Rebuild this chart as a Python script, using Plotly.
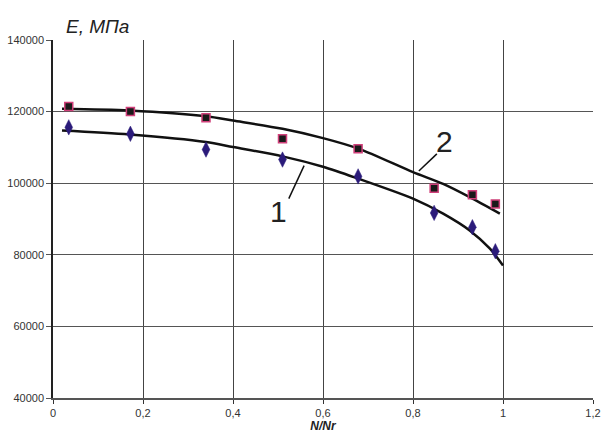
import plotly.graph_objects as go

# Measured points
x_pts = [0.035, 0.172, 0.34, 0.51, 0.678, 0.847, 0.932, 0.983]
e2_pts = [121400, 120000, 118300, 112400, 109600, 98600, 96800, 94200]   # squares (curve 2)
e1_pts = [115600, 113800, 109400, 106600, 101900, 91700, 87700, 81000]   # diamonds (curve 1)

# Trend curves
c2_x = [0.02, 0.17, 0.34, 0.4, 0.51, 0.6, 0.68, 0.8, 0.867, 0.926, 0.993]
c2_y = [120800, 120300, 118700, 117500, 115200, 112600, 109600, 103100, 99800, 96100, 91500]
c1_x = [0.02, 0.17, 0.34, 0.4, 0.51, 0.6, 0.68, 0.8, 0.867, 0.926, 0.971, 1.0]
c1_y = [114700, 113600, 111500, 110100, 107500, 104600, 101200, 95700, 91500, 86800, 81700, 77000]

x_ticks = [0, 0.2, 0.4, 0.6, 0.8, 1.0, 1.2]
x_tick_text = ["0", "0,2", "0,4", "0,6", "0,8", "1", "1,2"]
y_ticks = [40000, 60000, 80000, 100000, 120000, 140000]
y_tick_text = ["40000", "60000", "80000", "100000", "120000", "140000"]

# Curve labels: text position and leader line (tail, head)
lab_text = ["1", "2"]
lab_x = [0.50, 0.871]
lab_y = [92100, 111600]
lead_x0 = [0.524, 0.853]
lead_y0 = [95700, 108200]
lead_x1 = [0.558, 0.813]
lead_y1 = [104900, 103400]

fig = go.Figure()
fig.add_trace(go.Scatter(x=c2_x, y=c2_y, mode="lines",
                         line=dict(color="#111", width=2.5, shape="spline", smoothing=0.8),
                         showlegend=False, hoverinfo="skip"))
fig.add_trace(go.Scatter(x=c1_x, y=c1_y, mode="lines",
                         line=dict(color="#111", width=2.5, shape="spline", smoothing=0.8),
                         showlegend=False, hoverinfo="skip"))
fig.add_trace(go.Scatter(x=x_pts, y=e2_pts, mode="markers",
                         marker=dict(symbol="square", size=8, color="#1a1a1a",
                                     line=dict(color="#d0407a", width=1.5)),
                         showlegend=False))
fig.add_trace(go.Scatter(x=x_pts, y=e1_pts, mode="markers",
                         marker=dict(symbol="diamond-tall", size=11, color="#2b1b7a",
                                     line=dict(color="#2b1b7a", width=0.5)),
                         showlegend=False))

for i in range(len(lab_text)):
    fig.add_shape(type="line", xref="x", yref="y", x0=lead_x0[i], y0=lead_y0[i],
                  x1=lead_x1[i], y1=lead_y1[i], line=dict(color="#111", width=1.5))
    fig.add_annotation(x=lab_x[i], y=lab_y[i], xref="x", yref="y", text=lab_text[i],
                       showarrow=False, font=dict(family="Liberation Sans, Arial", size=30, color="#222"))

fig.add_annotation(x=0, y=140000, xref="paper", yref="y", text="<i>E, МПа</i>",
                   showarrow=False, xanchor="left", yanchor="bottom", xshift=11, yshift=1,
                   font=dict(family="Liberation Sans, Arial", size=19, color="#222"))

fig.update_layout(
    width=603, height=439,
    margin=dict(l=53, r=10, t=40, b=41, autoexpand=False),
    paper_bgcolor="white", plot_bgcolor="white",
    font=dict(family="Liberation Sans, Arial", size=11, color="#333"),
    showlegend=False,
)
fig.update_xaxes(range=[0, 1.2], tickvals=x_ticks, ticktext=x_tick_text, automargin=False,
                 ticklabeloverflow="allow",
                 showgrid=True, gridcolor="#444", gridwidth=1,
                 showline=True, linecolor="#555", linewidth=1.5, mirror=False,
                 ticks="outside", ticklen=4, tickcolor="#333", zeroline=False,
                 title=dict(text="<b><i>N/Nr</i></b>", font=dict(size=12, color="#222"), standoff=2))
fig.update_yaxes(range=[40000, 140000], tickvals=y_ticks, ticktext=y_tick_text, automargin=False,
                 showgrid=True, gridcolor="#555", gridwidth=1,
                 showline=True, linecolor="#222", linewidth=1.5,
                 ticks="outside", ticklen=5, tickcolor="#555", zeroline=False)

fig.write_html("out.html", config={"displayModeBar": False},
               post_script="document.body.style.margin='0';document.body.style.overflow='hidden';")
